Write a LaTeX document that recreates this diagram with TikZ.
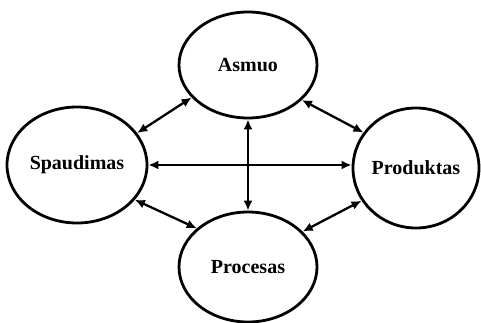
\documentclass[tikz,border=0pt]{standalone}
\usepackage{fontspec}
\setmainfont{Liberation Serif}
\usetikzlibrary{shapes.geometric,arrows.meta}
\begin{document}
\begin{tikzpicture}[x=1pt,y=1pt,
  blob/.style={ellipse,draw,line width=2.8pt,inner sep=0pt,
    font=\fontsize{20}{24}\selectfont\bfseries},
  link/.style={line width=2.3pt,{Latex[length=10pt,width=9pt]}-{Latex[length=10pt,width=9pt]}}]
\useasboundingbox (0,0) rectangle (481,-323);
\node[blob,minimum width=138pt,minimum height=106pt] (as) at (248,-65) {Asmuo};
\node[blob,minimum width=140pt,minimum height=116pt] (sp) at (77,-165) {Spaudimas};
\node[blob,minimum width=126pt,minimum height=120pt] (pd) at (416,-168) {Produktas};
\node[blob,minimum width=138pt,minimum height=110pt] (pc) at (248,-267) {Procesas};
\draw[link] (sp.28) -- (as.210);
\draw[link] (as.327) -- (pd.146);
\draw[link] (sp.329) -- (pc.143);
\draw[link] (pc.33) -- (pd.211);
\draw[link] (sp.east |- 0,-165) -- (pd.west |- 0,-165);
\draw[link] (as.south) -- (pc.north);
\end{tikzpicture}
\end{document}
